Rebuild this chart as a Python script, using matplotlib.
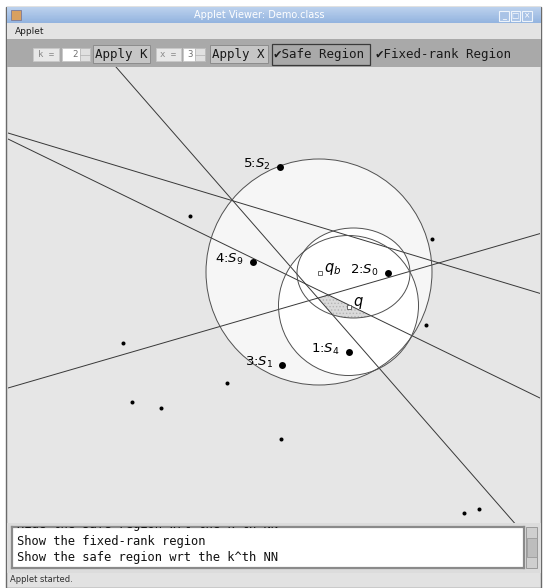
import numpy as np
import matplotlib.pyplot as plt
from matplotlib.patches import Circle, Ellipse, Rectangle, Polygon
from matplotlib.colors import LinearSegmentedColormap

plt.rcParams['hatch.linewidth'] = 0.6

# ranked sites (label "rank:S_idx") in canvas pixel coords
rank_no = ['5', '4', '3', '1', '2']
rank_site = ['2', '9', '1', '4', '0']
rank_x = [280, 253, 282, 349, 388]
rank_y = [167, 262, 365, 352, 273]

# the other (unranked) sites
other_x = [190, 432, 426, 123, 227, 132, 161, 281, 464, 479]
other_y = [216, 239, 325, 343, 383, 402, 408, 439, 513, 509]

# query points
query_name = ['q_b', 'q']
query_x = [320, 349]
query_y = [273, 307]

# safe-region circle and k-th NN circle
circle_x = [319, 348.5]
circle_y = [272, 305.5]
circle_r = [113, 70]

# fixed-rank region (ellipse)
ell_x, ell_y, ell_w, ell_h = 353.5, 273, 113, 90

# bisectors, two points each
line_x1 = [116, 8, 8, 8]
line_y1 = [67, 133, 139, 388]
line_x2 = [407, 542, 542, 542]
line_y2 = [400, 294, 399, 233]

log_text = ['Hide the safe region wrt the k^th NN',
            'Show the fixed-rank region',
            'Show the safe region wrt the k^th NN']

W, H = 544, 588
fig = plt.figure(figsize=(W / 100, H / 100), dpi=100)
fig.patch.set_facecolor('white')

bg = fig.add_axes([0, 0, 1, 1])
bg.set_xlim(0, W)
bg.set_ylim(H, 0)
bg.axis('off')

mono = ['DejaVu Sans Mono', 'DejaVu Sans']

# window frame
bg.add_patch(Rectangle((6, 7), 535, 581, fc='#e2e2e2', ec='#6a6a6a', lw=1))
# title bar
cmap = LinearSegmentedColormap.from_list('tb', ['#bcd2ee', '#94b4df'])
bg.imshow(np.linspace(0, 1, 20)[:, None], cmap=cmap, aspect='auto',
          extent=(6.5, 540.5, 23, 7.5), zorder=2)
bg.text(259, 15.5, 'Applet Viewer: Demo.class', color='white', fontsize=7,
        ha='center', va='center', zorder=3)
bg.add_patch(Rectangle((11, 10), 10, 10, fc='#d9a060', ec='#7a7a9a', lw=0.6, zorder=3))
for bx, g in zip([499, 510.5, 522], ['_', '□', '×']):
    bg.add_patch(Rectangle((bx, 10.5), 9.5, 10, fc='#a9c3e6', ec='#eef4fb', lw=0.8, zorder=3))
    bg.text(bx + 4.8, 15.5, g, color='white', fontsize=5.5, ha='center', va='center', zorder=4)
# menu bar
bg.add_patch(Rectangle((6.5, 23), 534, 16, fc='#e3e3e3', ec='none', zorder=2))
bg.text(15, 32, 'Applet', fontsize=6.5, color='#202020', va='center', zorder=3)
# toolbar
bg.add_patch(Rectangle((6.5, 39), 534, 28, fc='#a9a9a9', ec='none', zorder=2))
ty = 54.5
for lab, x0, x1 in [('k =', 33, 59), ('x =', 155.5, 180.5)]:
    bg.add_patch(Rectangle((x0, 48), x1 - x0, 13, fc='#e8e8e8', ec='#c8c8c8', lw=0.6, zorder=3))
    bg.text((x0 + x1) / 2, ty, lab, fontsize=6.5, color='#888888', ha='center', va='center',
            family=mono, zorder=4)
for val, x0, x1 in [('2', 61.5, 89.5), ('3', 183, 205)]:
    bg.add_patch(Rectangle((x0, 48), x1 - x0, 13, fc='white', ec='#c8c8c8', lw=0.6, zorder=3))
    bg.add_patch(Rectangle((x1 - 10, 48), 10, 13, fc='#e0e0e0', ec='#b8b8b8', lw=0.6, zorder=3))
    bg.plot([x1 - 10, x1], [54.5, 54.5], color='#b8b8b8', lw=0.6, zorder=4)
    bg.text(x1 - 12, ty, val, fontsize=6.5, color='#707070', ha='right', va='center',
            family=mono, zorder=4)
for lab, x0, x1 in [('Apply K', 93, 150), ('Apply X', 209.5, 267.5)]:
    bg.add_patch(Rectangle((x0, 45), x1 - x0, 18, fc='#c6c6c6', ec='#8c8c8c', lw=0.7, zorder=3))
    bg.text((x0 + x1) / 2, ty, lab, fontsize=9, color='#1a1a1a', ha='center', va='center',
            family=mono, zorder=4)
bg.add_patch(Rectangle((271.5, 43.5), 98.5, 21, fc='none', ec='#3a3a3a', lw=0.9, zorder=3))
bg.text(274, ty, '✔Safe Region', fontsize=9, color='#1a1a1a', va='center',
        family=mono, zorder=4)
bg.text(376, ty, '✔Fixed-rank Region', fontsize=9, color='#1a1a1a', va='center',
        family=mono, zorder=4)

# canvas
cx0, cx1, cy0, cy1 = 8, 540, 67, 523
ax = fig.add_axes([cx0 / W, 1 - cy1 / H, (cx1 - cx0) / W, (cy1 - cy0) / H])
ax.set_xlim(cx0, cx1)
ax.set_ylim(cy1, cy0)
ax.set_facecolor('#e6e6e6')
ax.set_xticks([])
ax.set_yticks([])
for s in ax.spines.values():
    s.set_visible(False)

ax.add_patch(Circle((circle_x[0], circle_y[0]), circle_r[0], fc='#f6f6f6', ec='none', zorder=1))
ax.add_patch(Circle((circle_x[1], circle_y[1]), circle_r[1], fc='white', ec='none', zorder=1))
ax.add_patch(Ellipse((ell_x, ell_y), ell_w, ell_h, fc='white', ec='none', zorder=1))


def clip_half(poly, p, q, seed):
    def d(pt):
        return (q[0] - p[0]) * (pt[1] - p[1]) - (q[1] - p[1]) * (pt[0] - p[0])
    s = np.sign(d(seed))
    out = []
    for i in range(len(poly)):
        a, b = poly[i], poly[(i + 1) % len(poly)]
        da, db = d(a) * s, d(b) * s
        if da >= 0:
            out.append(a)
        if da * db < 0:
            t = da / (da - db)
            out.append((a[0] + t * (b[0] - a[0]), a[1] + t * (b[1] - a[1])))
    return out


# safe region = fixed-rank ellipse cut by bisectors A, C, D
th = np.linspace(0, 2 * np.pi, 200, endpoint=False)
region = list(zip(ell_x + ell_w / 2 * np.cos(th), ell_y + ell_h / 2 * np.sin(th)))
seed = (345, 312)
for i in [0, 2, 3]:
    region = clip_half(region, (line_x1[i], line_y1[i]), (line_x2[i], line_y2[i]), seed)
ax.add_patch(Polygon(region, closed=True, fc='#dadada', ec='#b4b4b4', lw=0,
                     hatch='.....', zorder=2))

for x1, y1, x2, y2 in zip(line_x1, line_y1, line_x2, line_y2):
    t = np.array([-3, 4])
    ax.plot(x1 + t * (x2 - x1), y1 + t * (y2 - y1), color='#383838', lw=0.7, zorder=3)

for x, y, r in zip(circle_x, circle_y, circle_r):
    ax.add_patch(Circle((x, y), r, fc='none', ec='#505050', lw=0.7, zorder=3))
ax.add_patch(Ellipse((ell_x, ell_y), ell_w, ell_h, fc='none', ec='#505050', lw=0.7, zorder=3))

ax.plot(other_x, other_y, 'o', color='black', ms=2.9, mew=0, zorder=4)
ax.plot(rank_x, rank_y, 'o', color='black', ms=5, mew=0, zorder=4)
for n, s, x, y in zip(rank_no, rank_site, rank_x, rank_y):
    ax.text(x - 9, y - 3, n + ':$S_{' + s + '}$', fontsize=9.5, ha='right', va='center', zorder=5)

ax.plot(query_x, query_y, 's', mfc='white', mec='#505050', ms=3.5, mew=0.6, zorder=4)
for n, x, y in zip(query_name, query_x, query_y):
    ax.text(x + 4, y - 4, '$' + n + '$', fontsize=10.5, ha='left', va='center', zorder=5)

# log text area
bg.add_patch(Rectangle((6.5, 523), 534, 50, fc='#dcdcdc', ec='none', zorder=2))
tx = fig.add_axes([12 / W, 1 - 568 / H, 512 / W, 41 / H])
tx.set_xlim(12, 524)
tx.set_ylim(568, 527)
tx.set_facecolor('white')
tx.set_xticks([])
tx.set_yticks([])
for s in tx.spines.values():
    s.set_color('#8a8a8a')
    s.set_linewidth(1.6)
for i, line in enumerate(log_text):
    tx.text(17, 524.5 + 16.5 * i, line, fontsize=8.7, family=mono, color='#111111',
            va='center', clip_on=True)
bg.add_patch(Rectangle((526, 527), 11, 41, fc='#cfcfcf', ec='#9a9a9a', lw=0.7, zorder=3))
bg.add_patch(Rectangle((526.5, 538), 10, 19, fc='#bdbdbd', ec='#9a9a9a', lw=0.6, zorder=4))
bg.text(10, 579.5, 'Applet started.', fontsize=6, color='#303030', va='center', zorder=3)

fig.savefig('out.png', dpi=100)
